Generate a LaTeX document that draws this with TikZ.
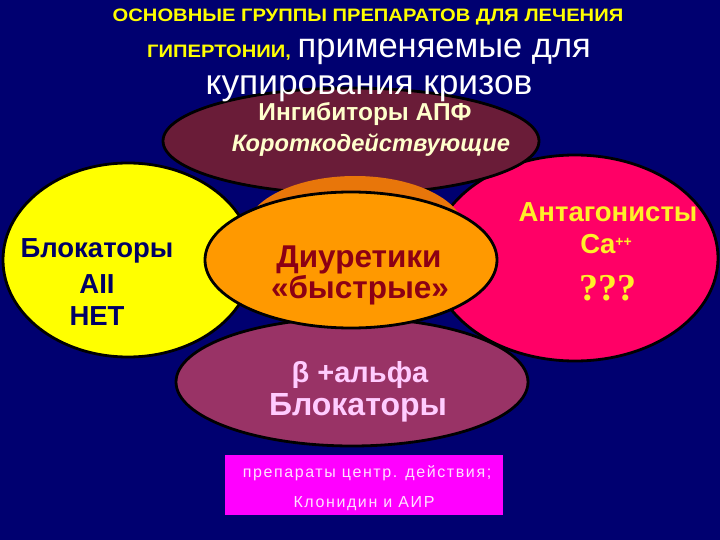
\documentclass[tikz,border=0pt]{standalone}
\usepackage{fontspec}
\setmainfont{Liberation Sans}
\newfontfamily\serifb{Liberation Serif}
\usetikzlibrary{shapes.geometric}
\definecolor{bg}{RGB}{0,0,112}
\definecolor{maroonc}{RGB}{106,28,56}
\definecolor{yellowc}{RGB}{255,255,0}
\definecolor{orangec}{RGB}{255,153,0}
\definecolor{darkorange}{RGB}{232,118,10}
\definecolor{pinkc}{RGB}{255,0,102}
\definecolor{purplec}{RGB}{153,51,102}
\definecolor{magentac}{RGB}{255,0,255}
\definecolor{creamc}{RGB}{255,255,204}
\definecolor{diurc}{RGB}{140,0,20}
\definecolor{navytext}{RGB}{0,0,102}
\definecolor{antc}{RGB}{255,240,40}
\definecolor{lightpink}{RGB}{255,204,255}
\definecolor{boxtext}{RGB}{255,225,255}
\begin{document}
\begin{tikzpicture}[x=1pt,y=-1pt,
  blob/.style={ellipse, draw=black, line width=2.8pt, inner sep=0pt},
  lbl/.style={anchor=base, inner sep=0pt}]
\fill[bg] (0,0) rectangle (720,540);
\useasboundingbox (0,0) rectangle (720,540);

% ellipses (back to front)
\node[blob, fill=pinkc, minimum width=286pt, minimum height=206pt] (ant) at (575,258) {};
\node[blob, fill=yellowc, minimum width=250pt, minimum height=194pt] (blk) at (128,260) {};
\node[blob, fill=purplec, minimum width=352pt, minimum height=128pt] (beta) at (352,382) {};
\node[blob, fill=maroonc, minimum width=376pt, minimum height=106pt] (ace) at (351,141) {};
\node[ellipse, fill=darkorange, inner sep=0pt, minimum width=220pt, minimum height=112pt] (diurback) at (355,232) {};
\node[blob, fill=orangec, minimum width=292pt, minimum height=136pt] (diur) at (351,260) {};

% box
\node[fill=magentac, minimum width=278pt, minimum height=60pt, inner sep=0pt] (box) at (364,485) {};

% title
\node[lbl, text=yellowc, font=\bfseries\fontsize{18}{20}\selectfont] (t1) at (368,22) {\scalebox{1.12}[1]{ОСНОВНЫЕ ГРУППЫ ПРЕПАРАТОВ ДЛЯ ЛЕЧЕНИЯ}};
\node[anchor=base west, inner sep=0pt, text=white] (t2) at (147,58) {{\color{yellowc}\bfseries\fontsize{18}{20}\selectfont\scalebox{1.12}[1]{ГИПЕРТОНИИ,}}\hspace{4pt} {\fontsize{34.5}{38}\selectfont применяемые для}};
\node[lbl, text=white, font=\fontsize{35.3}{38}\selectfont] (t3) at (369,95) {купирования кризов};

% ellipse texts
\node[lbl, text=creamc, font=\bfseries\fontsize{24.5}{28}\selectfont] (ace1) at (365,121) {Ингибиторы АПФ};
\node[lbl, text=creamc, font=\bfseries\itshape\fontsize{23.7}{28}\selectfont] (ace2) at (371,152) {Короткодействующие};

\node[lbl, text=navytext, font=\bfseries\fontsize{27.5}{30}\selectfont] (blk1) at (97,258) {Блокаторы};
\node[lbl, text=navytext, font=\bfseries\fontsize{27.5}{30}\selectfont] (blk2) at (97,293) {AII};
\node[lbl, text=navytext, font=\bfseries\fontsize{27.5}{30}\selectfont] (blk3) at (97,325) {НЕТ};

\node[lbl, text=diurc, font=\bfseries\fontsize{31.5}{34}\selectfont] (d1) at (359,267) {Диуретики};
\node[lbl, text=diurc, font=\bfseries\fontsize{31.5}{34}\selectfont] (d2) at (360,298) {«быстрые»};

\node[lbl, text=antc, font=\bfseries\fontsize{27.5}{30}\selectfont] (a1) at (608,222) {Антагонисты};
\node[lbl, text=antc, font=\bfseries\fontsize{27.5}{30}\selectfont] (a2) at (606,253) {Ca\raisebox{6pt}{\fontsize{14}{16}\selectfont ++}};
\node[lbl, text=antc, font=\serifb\bfseries\fontsize{38}{42}\selectfont] (a3) at (608,300) {???};

\node[lbl, text=lightpink, font=\bfseries\fontsize{29}{32}\selectfont] (b1) at (360,382) {β +альфа};
\node[lbl, text=lightpink, font=\bfseries\fontsize{32}{36}\selectfont] (b2) at (358,415) {Блокаторы};

\node[lbl, text=boxtext, font=\fontsize{16}{18}\selectfont\addfontfeature{LetterSpace=10}] (bx1) at (367,477) {препараты центр. действия;};
\node[lbl, text=boxtext, font=\fontsize{16}{18}\selectfont\addfontfeature{LetterSpace=10}] (bx2) at (364,507) {Клонидин и АИР};
\end{tikzpicture}
\end{document}
